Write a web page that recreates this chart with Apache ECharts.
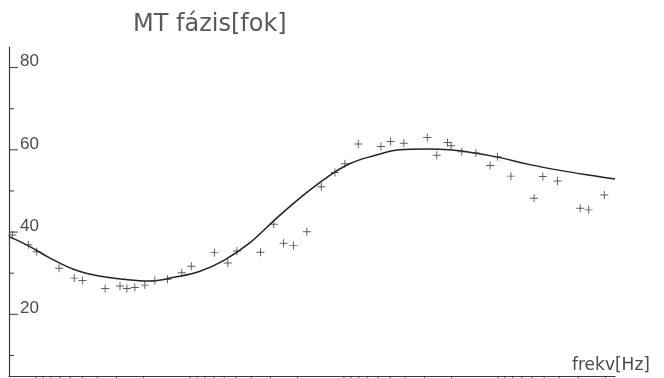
<!DOCTYPE html>
<html>
<head>
<meta charset="utf-8">
<script src="https://cdn.jsdelivr.net/npm/echarts@6/dist/echarts.min.js"></script>
<style>
  html, body { margin: 0; padding: 0; background: #fff; }
  #chart { width: 664px; height: 378px; }
</style>
</head>
<body>
<div id="chart"></div>
<script>
// measured phase (crosses), frequency in Hz
const measFreq = [0.000701, 0.000891, 0.00101, 0.00141, 0.00177, 0.00200, 0.00281, 0.00351, 0.00389, 0.00438,
  0.00509, 0.00591, 0.00714, 0.00884, 0.0102, 0.0144, 0.0176, 0.0202, 0.0287, 0.0350,
  0.0405, 0.0470, 0.0574, 0.0713, 0.0873, 0.1014, 0.124, 0.174, 0.201, 0.245,
  0.348, 0.401, 0.471, 0.497, 0.583, 0.720, 0.891, 0.995, 1.216, 1.72,
  1.96, 2.44, 3.43, 3.89, 4.92];
const measPhase = [39.3, 36.9, 35.2, 31.2, 28.8, 28.2, 26.3, 26.9, 26.3, 26.5,
  27.1, 28.2, 28.5, 30.1, 31.7, 35.0, 32.5, 35.4, 35.1, 41.9,
  37.3, 36.7, 40.1, 51.0, 54.5, 56.6, 61.4, 60.8, 62.0, 61.6,
  63.0, 58.7, 61.8, 61.0, 59.5, 59.2, 56.2, 58.3, 53.6, 48.2,
  53.5, 52.4, 45.8, 45.4, 49.0];

// model curve
const modelFreq = [0.000667, 0.000900, 0.001215, 0.001768, 0.002570, 0.003739, 0.005435, 0.007907, 0.01150, 0.01673,
  0.02432, 0.03537, 0.05145, 0.07483, 0.1088, 0.1583, 0.2302, 0.3349, 0.4871, 0.7085,
  1.030, 1.615, 2.532, 3.968, 5.77];
const modelPhase = [38.9, 36.6, 33.8, 30.9, 29.3, 28.5, 28.1, 29.0, 30.4, 33.2,
  37.3, 42.9, 48.2, 52.9, 56.6, 58.6, 60.0, 60.2, 60.0, 59.2,
  58.1, 56.4, 55.0, 53.8, 52.9];

// bottom ticks are at periods (s)
const periodTicks = [1000, 900, 800, 700, 600, 500, 400, 300, 200,
  100, 90, 80, 70, 60, 50, 40, 30, 20,
  10, 9, 8, 7, 6, 5, 4, 3, 2,
  1, 0.9, 0.8, 0.7, 0.6, 0.5, 0.4, 0.3, 0.2];
const yMajorTicks = [20, 40, 60, 80];
const yMinorTicks = [10, 30, 50, 70];

const freqMin = 0.000667, freqMax = 5.77;
const phaseMin = 5, phaseMax = 85;

const ink = '#3a3a3a';
const crossPath = 'path://M4.4,0H5.6V4.4H10V5.6H5.6V10H4.4V5.6H0V4.4H4.4Z';

const chart = echarts.init(document.getElementById('chart'));

function tickSeries(data, horizontal) {
  return {
    type: 'custom',
    silent: true,
    clip: false,
    data: data,
    renderItem: function (params, api) {
      const p = api.coord([api.value(0), api.value(1)]);
      const len = api.value(2);
      return {
        type: 'line',
        shape: horizontal
          ? { x1: p[0], y1: p[1], x2: p[0] + len, y2: p[1] }
          : { x1: p[0], y1: p[1], x2: p[0], y2: p[1] + len },
        style: { stroke: ink, lineWidth: 1 }
      };
    }
  };
}

chart.setOption({
  animation: false,
  backgroundColor: '#fff',
  title: {
    text: 'MT fázis[fok]',
    left: 128,
    top: 8,
    textStyle: { fontFamily: 'DejaVu Sans', fontSize: 24, fontWeight: 'normal', color: '#5a5a5a' }
  },
  grid: { left: 9, right: 49, top: 47, bottom: 2 },
  xAxis: {
    type: 'log',
    min: freqMin,
    max: freqMax,
    name: 'frekv[Hz]',
    nameLocation: 'end',
    nameGap: -43,
    nameTextStyle: {
      fontFamily: 'DejaVu Sans', fontSize: 17, color: '#4a4a4a',
      align: 'left', verticalAlign: 'bottom', padding: [0, 0, 2, 0]
    },
    axisLine: { lineStyle: { color: ink, width: 1.2 } },
    axisTick: { show: false },
    axisLabel: { show: false },
    splitLine: { show: false }
  },
  yAxis: {
    type: 'value',
    min: phaseMin,
    max: phaseMax,
    splitNumber: 4,
    axisLine: { show: true, lineStyle: { color: ink, width: 1.2 } },
    axisTick: { show: false },
    splitLine: { show: false },
    axisLabel: {
      inside: true,
      margin: 11,
      fontFamily: 'Liberation Sans',
      fontSize: 17,
      color: '#4a4a4a',
      verticalAlign: 'bottom',
      lineHeight: 12,
      formatter: function (v) { return yMajorTicks.indexOf(v) >= 0 ? String(v) : ''; }
    }
  },
  series: [
    {
      name: 'model',
      type: 'line',
      data: modelFreq.map((f, i) => [f, modelPhase[i]]),
      smooth: 0.4,
      showSymbol: false,
      lineStyle: { color: '#222', width: 1.5 },
      z: 3
    },
    {
      name: 'meas',
      type: 'scatter',
      data: measFreq.map((f, i) => [f, measPhase[i]]),
      symbol: crossPath,
      symbolSize: 8,
      itemStyle: { color: '#333' },
      z: 4
    },
    tickSeries(periodTicks.map(t => [1 / t, phaseMin, 6]), false),
    tickSeries(yMajorTicks.map(v => [freqMin, v, 9]), true),
    tickSeries(yMinorTicks.map(v => [freqMin, v, 5]), true)
  ]
});
</script>
</body>
</html>
